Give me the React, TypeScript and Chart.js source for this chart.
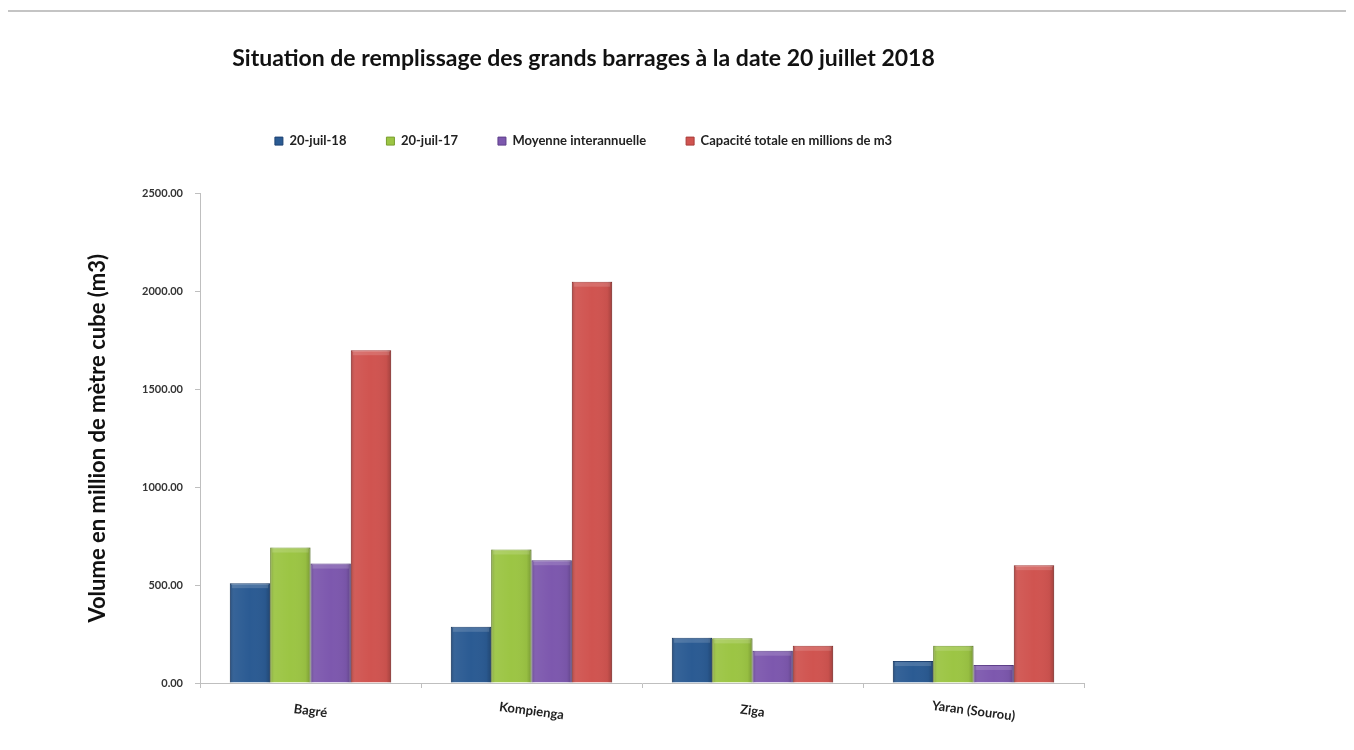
import React, { useEffect, useRef } from "react";
import { Chart, registerables } from "chart.js";

Chart.register(...registerables);

const categories = ["Bagré", "Kompienga", "Ziga", "Yaran (Sourou)"];
const seriesNames = ["20-juil-18", "20-juil-17", "Moyenne interannuelle", "Capacité totale en millions de m3"];
const values2018 = [510, 287, 231, 112];
const values2017 = [692, 682, 228, 190];
const valuesMoyenne = [610, 627, 165, 92];
const valuesCapacite = [1700, 2050, 190, 602];
const seriesColors = ["#2B5B93", "#9CC544", "#7D58AE", "#D05450"];
const borderColors = ["#1E4272", "#7A9E30", "#5E3F8A", "#A83C39"];
const yTicks = [0, 500, 1000, 1500, 2000, 2500];

const FONT = "Lato, 'Open Sans', sans-serif";

const xLabelPlugin = {
  id: "xLabelPlugin",
  afterDraw(chart: any) {
    const xs = chart.scales.x;
    const ctx = chart.ctx;
    ctx.save();
    ctx.font = `bold 13px ${FONT}`;
    ctx.fillStyle = "#222";
    ctx.textAlign = "center";
    ctx.textBaseline = "middle";
    categories.forEach((lab, i) => {
      const x = xs.getPixelForValue(i);
      const y = xs.top + 28;
      ctx.save();
      ctx.translate(x, y);
      ctx.rotate(0.13);
      ctx.fillText(lab, 0, 0);
      ctx.restore();
    });
    ctx.restore();
  },
};

const bevelPlugin = {
  id: "bevelPlugin",
  afterDatasetsDraw(chart: any) {
    const ctx = chart.ctx;
    ctx.save();
    chart.data.datasets.forEach((_: any, di: number) => {
      const meta = chart.getDatasetMeta(di);
      meta.data.forEach((el: any) => {
        const left = el.x - el.width / 2;
        const top = Math.min(el.y, el.base);
        const h = Math.abs(el.base - el.y);
        const w = el.width;
        const g = ctx.createLinearGradient(left, 0, left + w, 0);
        g.addColorStop(0, "rgba(0,0,0,0.18)");
        g.addColorStop(0.12, "rgba(255,255,255,0.05)");
        g.addColorStop(0.5, "rgba(255,255,255,0.0)");
        g.addColorStop(0.88, "rgba(0,0,0,0.04)");
        g.addColorStop(1, "rgba(0,0,0,0.22)");
        ctx.fillStyle = g;
        ctx.fillRect(left, top, w, h);
        const hh = Math.min(4, h);
        ctx.fillStyle = "rgba(255,255,255,0.15)";
        ctx.fillRect(left + 2, top + 1, w - 4, hh);
      });
    });
    ctx.restore();
  },
};

const legendSpacer = {
  id: "legendSpacer",
  beforeInit(chart: any) {
    const origFit = chart.legend.fit;
    chart.legend.fit = function fit() {
      origFit.bind(chart.legend)();
      this.height += 36;
    };
  },
};

export default function App() {
  const ref = useRef<HTMLCanvasElement | null>(null);
  useEffect(() => {
    if (!ref.current) return;
    const datasets = [values2018, values2017, valuesMoyenne, valuesCapacite].map((d, i) => ({
      label: seriesNames[i],
      data: d,
      backgroundColor: seriesColors[i],
      borderColor: borderColors[i],
      borderWidth: 1,
      categoryPercentage: 0.73,
      barPercentage: 1.0,
    }));
    const chart = new Chart(ref.current, {
      type: "bar",
      data: { labels: categories, datasets },
      plugins: [xLabelPlugin, legendSpacer, bevelPlugin],
      options: {
        animation: false,
        responsive: true,
        maintainAspectRatio: false,
        layout: { padding: { left: 75, right: 262, top: 0, bottom: 39 } },
        plugins: {
          title: {
            display: true,
            text: "Situation de remplissage des grands barrages à la date 20 juillet 2018",
            color: "#111",
            font: { family: FONT, size: 23, weight: "bold" },
            padding: { top: 33, bottom: 22 },
          },
          legend: {
            display: true,
            position: "top",
            labels: {
              boxWidth: 8,
              boxHeight: 8,
              color: "#222",
              padding: 40,
              font: { family: FONT, size: 13, weight: "bold" },
            },
          },
          tooltip: { enabled: false },
        },
        scales: {
          x: {
            grid: { display: true, drawOnChartArea: false, drawTicks: true, tickLength: 5, color: "#bfbfbf", offset: true },
            border: { display: true, color: "#bfbfbf", width: 1 },
            ticks: { display: false },
            afterFit(scale: any) {
              scale.height = 40;
            },
          },
          y: {
            min: 0,
            max: 2500,
            afterBuildTicks(scale: any) {
              scale.ticks = yTicks.map((v) => ({ value: v }));
            },
            grid: { display: true, drawOnChartArea: false, drawTicks: true, tickLength: 5, color: "#bfbfbf" },
            border: { display: true, color: "#bfbfbf", width: 1 },
            ticks: {
              color: "#333",
              padding: 12,
              font: { family: FONT, size: 11, weight: "bold" },
              callback: (v: any) => Number(v).toFixed(2),
            },
            title: {
              display: true,
              text: "Volume en million de mètre cube (m3)",
              color: "#111",
              font: { family: FONT, size: 22, weight: "bold" },
              padding: { top: 2, bottom: 4 },
            },
            afterFit(scale: any) {
              scale.width = 117;
            },
          },
        },
      },
    });
    return () => chart.destroy();
  }, []);
  return (
    <div
      style={{
        position: "relative",
        marginLeft: -2,
        marginTop: 2,
        width: 1338,
        height: 750,
        border: "2px solid #c4c4c4",
        background: "#fff",
      }}
    >
      <canvas ref={ref} />
    </div>
  );
}
